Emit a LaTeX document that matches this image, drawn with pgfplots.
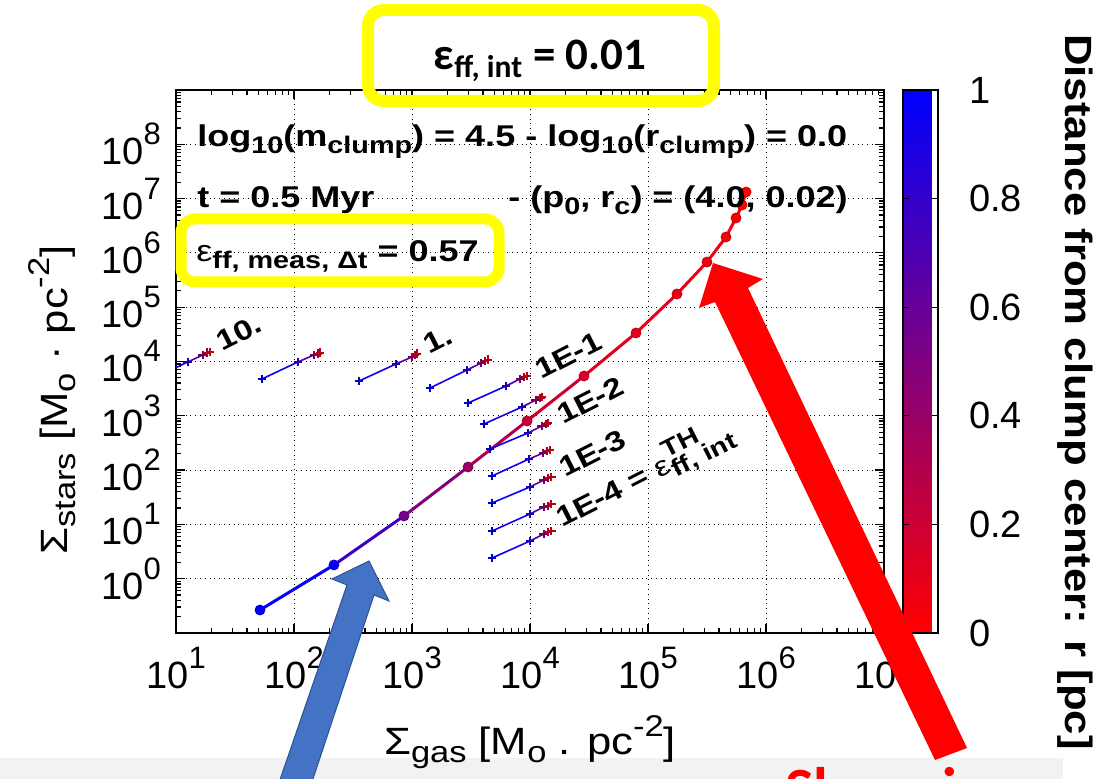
\documentclass[border=0pt]{standalone}
\usepackage{fontspec}
\setmainfont{Liberation Sans}
\newfontfamily\calib{Carlito}
\newfontfamily\gwide[FakeStretch=1.2]{Liberation Sans}
\newfontfamily\gmid[FakeStretch=1.15]{Liberation Sans}
\usepackage{graphicx}
\usepackage{pgfplots}
\usepackage{pgfplotstable}
\pgfplotsset{compat=1.18}

\newcommand{\tp}[1]{10\raisebox{10pt}{\fontsize{15.5}{15.5}\selectfont #1}}
\newcommand{\asub}[1]{\raisebox{-3.5pt}{\fontsize{12}{12}\selectfont #1}}
\newcommand{\asup}[1]{\raisebox{7pt}{\fontsize{12}{12}\selectfont #1}}
\newcommand{\lsub}[1]{\raisebox{-4pt}{\fontsize{15}{15}\selectfont #1}}
\newcommand{\lsup}[1]{\raisebox{9pt}{\fontsize{15}{15}\selectfont #1}}

\pgfplotstableread{
x y r
51.5 0.265 1.0
218 1.79 0.95
855 14.3 0.55
2985 114 0.4
9440 802 0.22
28700 5410 0.15
79100 33500 0.1
176000 175000 0.07
316000 679000 0.05
458000 1.96e6 0.03
557000 4.40e6 0.02
627000 7.62e6 0.01
678000 1.32e7 0.0
}\tabMain

\pgfplotstableread{
x y r
6.27 4770 1.0
12.6 9800 0.85
16.9 13200 0.45
18.3 14400 0.25
19.4 15000 0.08
}\tabA
\pgfplotstableread{
x y r
53.6 4770 1.0
108 9800 0.85
148 13200 0.45
160 13800 0.25
166 14400 0.08
}\tabB
\pgfplotstableread{
x y r
356 4370 1.0
731 9000 0.85
1000 12100 0.45
1060 13200 0.25
1100 13800 0.08
}\tabC
\pgfplotstableread{
x y r
1420 3250 1.0
2920 6960 0.85
3850 9380 0.45
4160 10200 0.25
4410 10700 0.08
}\tabD
\pgfplotstableread{
x y r
2985 1720 1.0
6270 3540 0.85
8230 4770 0.45
8900 5190 0.25
9440 5410 0.08
}\tabE
\pgfplotstableread{
x y r
4070 706 1.0
8550 1450 0.85
11200 1950 0.45
12200 2130 0.25
12600 2220 0.08
}\tabF
\pgfplotstableread{
x y r
4580 245 1.0
9620 482 0.85
12600 649 0.45
13700 706 0.25
14200 736 0.08
}\tabG
\pgfplotstableread{
x y r
4760 77.8 1.0
9810 160 0.85
12900 206 0.45
13900 225 0.25
14800 235 0.08
}\tabH
\pgfplotstableread{
x y r
4760 24.8 1.0
10000 48.9 0.85
13100 65.8 0.45
14200 71.6 0.25
15100 74.7 0.08
}\tabI
\pgfplotstableread{
x y r
4760 7.55 1.0
10000 15.6 0.85
13100 20.9 0.45
14200 21.8 0.25
15100 23.8 0.08
}\tabJ
\pgfplotstableread{
x y r
4760 2.40 1.0
10000 4.94 0.85
13100 6.65 0.45
14200 7.24 0.25
15100 7.55 0.08
}\tabK

\newcommand{\series}[1]{%
  \addplot[mesh, line width=0.8pt, point meta=explicit] table[x=x,y=y,meta=r]{#1};
  \addplot[scatter, only marks, mark=+, mark size=2.2pt, line width=0.8pt, point meta=explicit] table[x=x,y=y,meta=r]{#1};
}

\definecolor{yel}{RGB}{255,255,0}
\definecolor{arblue}{RGB}{68,114,196}
\definecolor{arblueedge}{RGB}{47,82,143}

\begin{document}
\begin{tikzpicture}
\useasboundingbox (0,0) rectangle (553pt,389.5pt);
\begin{scope}[x=0.5pt,y=-0.5pt,yshift=389.5pt]
\fill[black!5] (0,758) rectangle (1063,800);
\node[anchor=base west, text=red, inner sep=0, font=\calib\bfseries\fontsize{30}{30}\selectfont] at (785,810) {Sharp increase};
\end{scope}
\begin{axis}[
  at={(88pt,73pt)}, anchor=south west,
  scale only axis, width=354pt, height=271.5pt,
  xmode=log, ymode=log,
  xmin=10, xmax=1e7, ymin=0.1, ymax=1e9,
  xtick={10,100,1000,1e4,1e5,1e6,1e7},
  xticklabels={\tp{1},\tp{2},\tp{3},\tp{4},\tp{5},\tp{6},\tp{7}},
  ytick={0.1,1,10,100,1000,1e4,1e5,1e6,1e7,1e8,1e9},
  yticklabels={{},\tp{0},\tp{1},\tp{2},\tp{3},\tp{4},\tp{5},\tp{6},\tp{7},\tp{8},{}},
  tick label style={font=\fontsize{19}{22}\selectfont},
  xticklabel style={yshift=-3.5pt},
  yticklabel style={xshift=-4pt},
  tick pos=both, tick align=inside,
  major tick length=4.5pt, minor tick length=2.5pt,
  every tick/.style={black, line width=0.6pt},
  axis line style={line width=0.9pt},
  grid=major, major grid style={black, dotted, line width=0.5pt},
  point meta min=0, point meta max=1,
  colormap={rb}{rgb255=(255,0,0) rgb255=(0,0,255)},
  colorbar,
  colorbar shift/.style={xshift=9.5pt},
  colorbar style={
    at={(parent axis.north east)}, anchor=north west,
    width=17.5pt,
    ytick={0,0.2,0.4,0.6,0.8,1},
    yticklabel style={font=\fontsize{19}{22}\selectfont, /pgf/number format/assume math mode=true, xshift=12pt},
    ytick pos=both, tick align=inside,
    major tick length=3pt,
    axis line style={line width=0.8pt},
  },
]
\addplot[mesh, line width=1.5pt, point meta=explicit] table[x=x,y=y,meta=r]{\tabMain};
\addplot[scatter, only marks, mark=*, mark size=2.5pt, point meta=explicit] table[x=x,y=y,meta=r]{\tabMain};
\series{\tabA}
\series{\tabB}
\series{\tabC}
\series{\tabD}
\series{\tabE}
\series{\tabF}
\series{\tabG}
\series{\tabH}
\series{\tabI}
\series{\tabJ}
\series{\tabK}
\end{axis}
\begin{scope}[x=0.5pt,y=-0.5pt,yshift=389.5pt]
% axis labels
\node[font=\gmid\fontsize{19}{22}\selectfont] at (530,742) {Σ\lsub{gas} [M\lsub{o} . pc\lsup{-2}]};
\node[font=\gmid\fontsize{19}{22}\selectfont, rotate=90] at (52,400) {Σ\lsub{stars} [M\lsub{o} · pc\lsup{-2}]};
\node[font=\gmid\bfseries\fontsize{19}{22}\selectfont, rotate=-90] at (1075,392) {Distance from clump center: r [pc]};
% annotations
\begin{scope}[every node/.style={font=\gwide\bfseries\fontsize{15}{18}\selectfont, inner sep=0}]
\node[anchor=base west] at (197,147) {log\asub{10}(m\asub{clump}) = 4.5 - log\asub{10}(r\asub{clump}) = 0.0};
\node[anchor=base west] at (197,208) {t = 0.5 Myr};
\node[anchor=base east] at (848,208) {- (p\asub{0}, r\asub{c}) = (4.0, 0.02)};
\node[anchor=base west] at (196,262) {{\mdseries ε}\asub{ff, meas, Δt} = 0.57};
\end{scope}
\begin{scope}[every node/.style={font=\gwide\bfseries\fontsize{14}{17}\selectfont, inner sep=0}]
\node[anchor=base west, rotate=27] at (222,352) {10.};
\node[anchor=base west, rotate=27] at (429,355) {1.};
\node[anchor=base west, rotate=27] at (541,380) {1E-1};
\node[anchor=base west, rotate=27] at (563,425) {1E-2};
\node[anchor=base west, rotate=27] at (565,478) {1E-3};
\node[anchor=base west, rotate=27] at (562,528) {1E-4 = {\mdseries ε}\rlap{\asup{TH}}\asub{ff, int}};
\end{scope}
% boxes
\draw[yel, line width=6pt, rounded corners=8pt] (368,10) rectangle (714,101);
\node[anchor=base, inner sep=0, font=\calib\bfseries\fontsize{22.5}{25}\selectfont] at (540,70) {ε\textsubscript{ff, int} = 0.01};
\draw[yel, line width=5.5pt, rounded corners=7pt] (181,219) rectangle (499,282);
% arrows
\filldraw[fill=arblue, draw=arblueedge, line width=0.5pt] (369,561) -- (389,601) -- (374,595) -- (306,800) -- (273,800) -- (347,585) -- (332,579) -- cycle;
\fill[red] (713,263) -- (763,279) -- (748,288) -- (967,748) -- (935,760) -- (715,302) -- (699,308) -- cycle;
\end{scope}
\end{tikzpicture}
\end{document}
